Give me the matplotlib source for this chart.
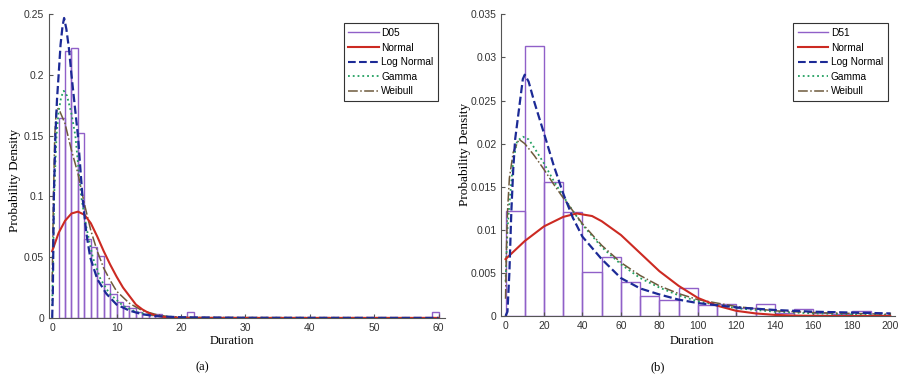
import numpy as np
import matplotlib
matplotlib.use('Agg')
import matplotlib.pyplot as plt
from matplotlib.lines import Line2D

# ---- panel (a): D05 ----
bins_a = [1, 2, 3, 4, 5, 6, 7, 8, 9, 10, 11, 12, 13, 14, 15, 16, 17, 18, 19, 21, 59]
hist_a = [0.165, 0.22, 0.222, 0.152, 0.065, 0.058, 0.051, 0.028, 0.02, 0.013, 0.01,
          0.008, 0.005, 0.003, 0.002, 0.003, 0.001, 0.0005, 0.001, 0.005, 0.005]

norm_x_a = [0, 1, 2, 3, 4, 5, 6, 7, 8, 9, 10, 11, 12, 13, 14, 15, 16, 17, 18, 20, 30, 60]
norm_y_a = [0.055, 0.07, 0.08, 0.086, 0.0875, 0.085, 0.078, 0.067, 0.055, 0.044, 0.034,
            0.025, 0.018, 0.011, 0.007, 0.004, 0.002, 0.001, 0.0005, 0.0001, 0.0, 0.0]
logn_x_a = [0, 0.1, 0.26, 0.5, 0.75, 1.0, 1.3, 1.6, 1.85, 2.2, 2.6, 3.0, 3.5, 4.0, 4.7,
            5.3, 5.9, 7.0, 8.4, 10, 12, 14, 16, 20, 30, 60]
logn_y_a = [0, 0.02, 0.1, 0.15, 0.18, 0.2, 0.225, 0.24, 0.247, 0.238, 0.222, 0.2, 0.175,
            0.15, 0.1, 0.07, 0.05, 0.032, 0.02, 0.011, 0.006, 0.003, 0.0015, 0.0005, 0.0001, 0.0]
gam_x_a = [0, 0.15, 0.3, 0.67, 1.0, 1.4, 1.8, 2.3, 3.0, 3.6, 4.5, 5.3, 6.3, 7.5, 8.9,
           11, 13, 15, 18, 22, 60]
gam_y_a = [0.01, 0.05, 0.1, 0.15, 0.17, 0.182, 0.187, 0.183, 0.168, 0.15, 0.1, 0.075,
           0.05, 0.032, 0.02, 0.01, 0.005, 0.0025, 0.001, 0.0002, 0.0]
weib_x_a = [0, 0.2, 0.4, 0.6, 0.8, 1.2, 2, 3, 4, 5, 6, 7, 8, 9, 10, 12, 14, 16, 18, 22, 60]
weib_y_a = [0.03, 0.1, 0.15, 0.168, 0.173, 0.17, 0.16, 0.138, 0.119, 0.094, 0.072, 0.055,
            0.041, 0.031, 0.022, 0.012, 0.006, 0.003, 0.001, 0.0002, 0.0]

# ---- panel (b): D51 ----
bins_b = [0, 10, 20, 30, 40, 50, 60, 70, 80, 90, 100, 110, 120, 130, 140, 150, 160, 170, 180, 190]
hist_b = [0.0122, 0.0313, 0.0156, 0.0121, 0.0051, 0.0068, 0.0039, 0.0023, 0.0018, 0.0032,
          0.0013, 0.0014, 0.0009, 0.0014, 0.0004, 0.0008, 0.0003, 0.0002, 0.0006, 0.0001]

norm_x_b = [0, 10, 20, 30, 37, 45, 50, 60, 70, 80, 90, 100, 110, 120, 130, 140, 150, 170, 200]
norm_y_b = [0.0066, 0.0087, 0.0104, 0.0115, 0.0119, 0.0116, 0.011, 0.0094, 0.0073, 0.0052,
            0.0035, 0.0021, 0.0012, 0.0006, 0.0003, 0.00013, 0.00005, 0.0, 0.0]
logn_x_b = [0, 1, 2, 3, 4, 5, 7, 9, 10, 12, 15, 20, 25, 30, 35, 40, 50, 60, 70, 80, 90,
            100, 120, 140, 160, 180, 200]
logn_y_b = [0, 0.0005, 0.005, 0.012, 0.017, 0.0205, 0.024, 0.0275, 0.028, 0.0272, 0.0248,
            0.0212, 0.0175, 0.0142, 0.0114, 0.0092, 0.0066, 0.0044, 0.0032, 0.0025, 0.0019,
            0.0015, 0.001, 0.0007, 0.0005, 0.0004, 0.0003]
gam_x_b = [0, 1, 2, 4, 6, 9, 12, 15, 20, 25, 30, 35, 40, 50, 60, 70, 80, 90, 100, 110,
           120, 140, 160, 200]
gam_y_b = [0.004, 0.01, 0.013, 0.018, 0.0203, 0.0208, 0.0205, 0.0195, 0.0177, 0.0157,
           0.0139, 0.0122, 0.0106, 0.008, 0.006, 0.0044, 0.0033, 0.0024, 0.0017, 0.0013,
           0.0009, 0.0005, 0.0003, 0.0001]
weib_x_b = [0, 0.5, 1, 2, 4, 7, 10, 15, 20, 25, 30, 40, 50, 60, 70, 80, 90, 100, 120,
            140, 160, 200]
weib_y_b = [0.002, 0.008, 0.012, 0.016, 0.019, 0.0205, 0.02, 0.0186, 0.017, 0.0153, 0.0137,
            0.0107, 0.0082, 0.0062, 0.0047, 0.0035, 0.0026, 0.0019, 0.0011, 0.0006, 0.0004,
            0.0002]

purple = '#9060c8'
red = '#cc2a22'
blue = '#1c2a96'
green = '#22a060'
brown = '#6e5a3c'

fig = plt.figure(figsize=(9, 3.78), dpi=100)

def panel(rect, bins, width, hist, curves, name, xlim, ylim, xt, yt, ylab_labels,
          xlab_pos, ylab_pos):
    ax = fig.add_axes(rect)
    ax.bar(bins, hist, width=width, align='edge', fill=False, edgecolor=purple, linewidth=1.0)
    (nx, ny), (lx, ly), (gx, gy), (wx, wy) = curves
    ax.plot(gx, gy, color=green, ls=':', lw=1.3)
    ax.plot(wx, wy, color=brown, ls='-.', lw=1.1)
    ax.plot(nx, ny, color=red, ls='-', lw=1.5)
    ax.plot(lx, ly, color=blue, ls='--', lw=1.6)
    ax.set_xlim(*xlim)
    ax.set_ylim(*ylim)
    ax.set_xticks(xt)
    ax.set_yticks(yt)
    ax.set_yticklabels(ylab_labels)
    for s in ['top', 'right']:
        ax.spines[s].set_visible(False)
    for s in ['left', 'bottom']:
        ax.spines[s].set_color('#555555')
    ax.tick_params(direction='in', length=3, color='#555555', labelsize=7.5,
                   labelcolor='#333333')
    for lab in ax.get_xticklabels() + ax.get_yticklabels():
        lab.set_family('Liberation Sans')
    ax.set_xlabel('Duration', family='Liberation Serif', fontsize=9)
    ax.xaxis.set_label_coords(*xlab_pos)
    ax.set_ylabel('Probability Density', family='Liberation Serif', fontsize=9.5)
    ax.yaxis.set_label_coords(*ylab_pos)
    handles = [Line2D([], [], color=purple, lw=1.0),
               Line2D([], [], color=red, lw=1.5),
               Line2D([], [], color=blue, ls='--', lw=1.5),
               Line2D([], [], color=green, ls=':', lw=1.3),
               Line2D([], [], color=brown, ls='-.', lw=1.1)]
    leg = ax.legend(handles, [name, 'Normal', 'Log Normal', 'Gamma', 'Weibull'],
                    loc='upper right', bbox_to_anchor=(0.99, 0.98), fancybox=False,
                    framealpha=1, edgecolor='#333333', handlelength=3.0,
                    prop={'family': 'Liberation Sans', 'size': 7.3}, labelspacing=0.45,
                    borderpad=0.45, handletextpad=0.25, borderaxespad=0.3)
    leg.get_frame().set_linewidth(0.8)
    return ax

panel([0.0544, 0.159, 0.44, 0.803], bins_a, 1, hist_a,
      [(norm_x_a, norm_y_a), (logn_x_a, logn_y_a), (gam_x_a, gam_y_a), (weib_x_a, weib_y_a)],
      'D05', (-0.5, 61), (0, 0.25), [0, 10, 20, 30, 40, 50, 60],
      [0, 0.05, 0.1, 0.15, 0.2, 0.25], ['0', '0.05', '0.1', '0.15', '0.2', '0.25'],
      (0.462, -0.055), (-0.07, 0.454))
panel([0.557, 0.164, 0.437, 0.798], bins_b, 10, hist_b,
      [(norm_x_b, norm_y_b), (logn_x_b, logn_y_b), (gam_x_b, gam_y_b), (weib_x_b, weib_y_b)],
      'D51', (-2.2, 202.3), (0, 0.035), [0, 20, 40, 60, 80, 100, 120, 140, 160, 180, 200],
      [0, 0.005, 0.01, 0.015, 0.02, 0.025, 0.03, 0.035],
      ['0', '0.005', '0.01', '0.015', '0.02', '0.025', '0.03', '0.035'],
      (0.485, -0.062), (-0.078, 0.536))

fig.text(202 / 900, 1 - 367 / 378, '(a)', ha='center', va='center',
         family='Liberation Serif', fontsize=9)
fig.text(658 / 900, 1 - 367 / 378, '(b)', ha='center', va='center',
         family='Liberation Serif', fontsize=9)

plt.savefig('out.png', dpi=100)
